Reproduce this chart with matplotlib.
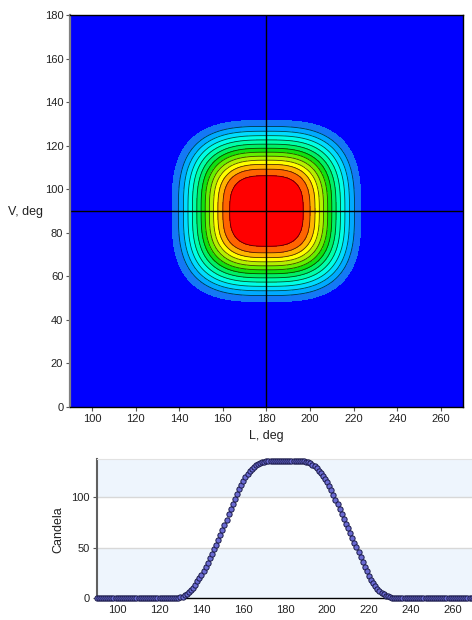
import numpy as np
import matplotlib
matplotlib.use("Agg")
import matplotlib.pyplot as plt

plt.rcParams['font.family'] = ['Liberation Sans', 'DejaVu Sans']
plt.rcParams['font.size'] = 8

# ---- data ----
# horizontal angle L (deg), one sample per degree
angles_l = list(range(90, 271))
# candela along V = 90 deg
candela = (
    [0.0] * 39 +                                   # 90..128
    [0.3, 0.8, 1.6, 2.8, 4.2, 6.0, 8.2, 10.6, 13.5, 16.6,      # 129..138
     19.8, 23.2, 27.0, 31.0, 35.2, 39.4, 43.8, 48.3, 52.9, 57.5,  # 139..148
     62.2, 67.2, 72.2, 77.5, 82.6, 87.8, 93.0, 98.0, 103.0, 107.7,  # 149..158
     112.0, 116.0, 119.4, 122.5, 125.2, 127.5, 129.4, 130.9, 132.2, 133.2,  # 159..168
     134.0, 134.6, 135.0, 135.3, 135.5] +          # 169..173
    [135.6] * 14 +                                 # 174..187
    [135.5, 135.2, 134.8, 134.1, 133.1, 131.8, 130.1, 128.1, 125.8, 123.1,  # 188..197
     120.1, 117.5, 114.2, 110.5, 106.3, 101.8, 97.2, 92.5, 87.9, 83.2,  # 198..207
     78.5, 73.7, 69.0, 64.2, 59.5, 54.8, 50.2, 45.4, 40.6, 35.8,   # 208..217
     31.2, 26.5, 22.3, 18.5, 15.0, 12.0, 9.3, 7.1, 5.3, 3.8,      # 218..227
     2.7, 1.8, 1.2, 0.7, 0.4, 0.2, 0.05] +         # 228..234
    [0.0] * 36                                     # 235..270
)
# vertical angle grid (deg) of the iso-candela chart
angles_v = list(range(0, 181))
beam_center_l = 180
beam_center_v = 90

x_ticks = [100, 120, 140, 160, 180, 200, 220, 240, 260]
v_ticks = [0, 20, 40, 60, 80, 100, 120, 140, 160, 180]
cd_ticks = [0, 50, 100]

band_colors = ['#0000FF', '#1478F5', '#00AAFF', '#00DCFF', '#00FFE6', '#00FFAA',
               '#00F064', '#10E010', '#64F000', '#B4F000', '#FFFF00', '#FFB400',
               '#FF6400', '#FF0000']

# ---- figure ----
W, H = 472, 620
fig = plt.figure(figsize=(W / 100, H / 100), dpi=100)

def fx(px):
    return px / W

def fy(py):
    return 1 - py / H

# top contour chart: iso-candela field built from the measured profile
ax1 = fig.add_axes([fx(70.2), fy(407), fx(462.7) - fx(70.2), fy(15) - fy(407)])
L = np.array(angles_l, dtype=float)
V = np.array(angles_v, dtype=float)
prof = np.array(candela)
LL, VV = np.meshgrid(L, V)
n_exp = 3.0
r = (np.abs(LL - beam_center_l) ** n_exp + np.abs(1.04 * (VV - beam_center_v)) ** n_exp) ** (1 / n_exp)
Z = 0.5 * (np.interp(beam_center_l - r, L, prof) + np.interp(beam_center_l + r, L, prof))

n_bands = len(band_colors)
inner = np.linspace(12.0, 124.5, n_bands - 1)
levels = [-1.0] + list(inner) + [1000.0]
ax1.contourf(L, V, Z, levels=levels, colors=band_colors)
ax1.contour(L, V, Z, levels=inner[1:], colors='black', linewidths=0.6, alpha=0.7)
ax1.axvline(180, color='black', lw=1.0)
ax1.axhline(90, color='black', lw=1.0)
ax1.set_xlim(90, 270)
ax1.set_ylim(0, 180)
ax1.set_xticks(x_ticks)
ax1.set_yticks(v_ticks)
ax1.tick_params(direction='out', length=3, width=0.8, color='#555555', labelcolor='#222222', pad=2)
for s in ['top', 'right', 'bottom']:
    ax1.spines[s].set_color('black')
    ax1.spines[s].set_linewidth(1.0)
ax1.spines['left'].set_color('#808080')
ax1.spines['left'].set_linewidth(1.6)
fig.text(fx(8), fy(212), 'V, deg', ha='left', va='center', fontsize=9, color='#222222')
fig.text(fx(266), fy(436), 'L, deg', ha='center', va='center', fontsize=9, color='#222222')

# bottom candela chart
ax2 = fig.add_axes([fx(96.7), fy(598.3), fx(473.7) - fx(96.7), fy(459.3) - fy(598.3)])
ax2.set_xlim(90, 270)
ax2.set_ylim(0, 137)
ax2.axhspan(0, 50, color='#EEF5FD', zorder=0, lw=0)
ax2.axhspan(100, 137, color='#EEF5FD', zorder=0, lw=0)
for yv in [50, 100]:
    ax2.axhline(yv, color='#D8D8D8', lw=1.0, zorder=1)
ax2.plot(angles_l, candela, linestyle='none', marker='o', markersize=3.8,
         markerfacecolor='#6A6AD2', markeredgecolor='#1A1A48', markeredgewidth=0.7,
         clip_on=False, zorder=3)
ax2.set_xticks(x_ticks)
ax2.set_yticks(cd_ticks)
ax2.tick_params(direction='out', length=3, width=0.8, color='#555555', labelcolor='#222222', pad=2)
ax2.tick_params(axis='x', length=0, pad=5)
ax2.spines['top'].set_color('#E2E2E2')
ax2.spines['right'].set_visible(False)
ax2.spines['bottom'].set_color('black')
ax2.spines['bottom'].set_linewidth(1.0)
ax2.spines['left'].set_color('#606060')
ax2.spines['left'].set_linewidth(1.5)
fig.text(fx(58), fy(530), 'Candela', ha='center', va='center', rotation=90, fontsize=9, color='#222222')

fig.savefig('out.png', dpi=100)
